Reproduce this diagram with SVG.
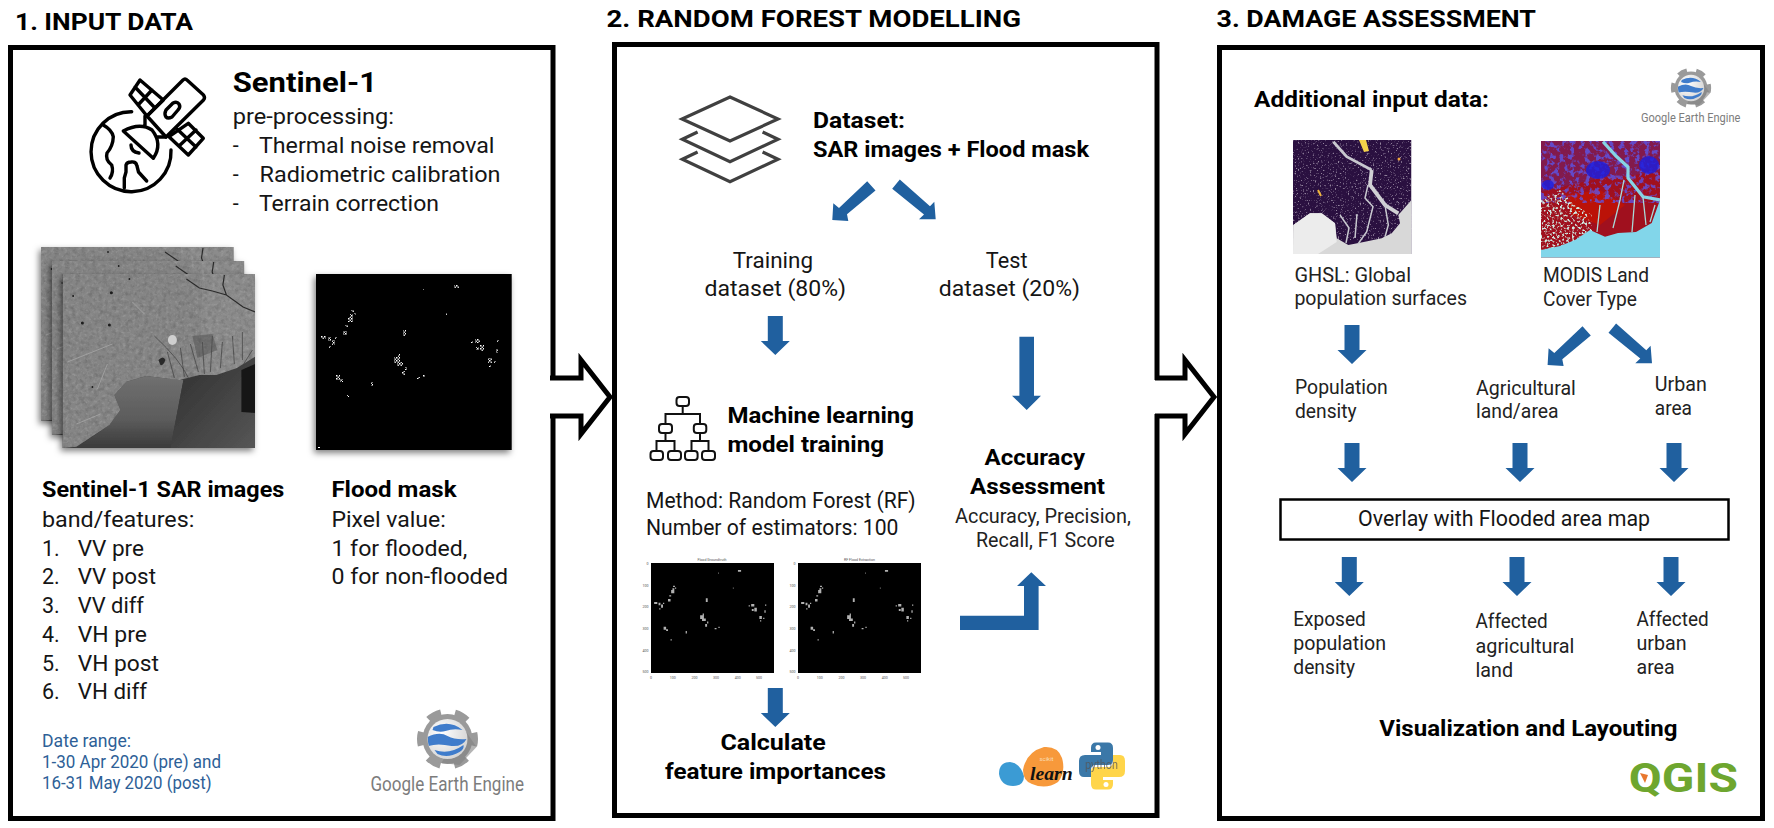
<svg xmlns="http://www.w3.org/2000/svg" width="1774" height="828" viewBox="0 0 1774 828">
<style>
text{font-family:Roboto,"Liberation Sans",sans-serif;fill:#111}
.h{font-size:24px;font-weight:700;fill:#000}
.t{font-size:28px;font-weight:700;fill:#000}
.b{font-size:22px;font-weight:700;fill:#000}
.r{font-size:21.5px;fill:#151515}
.s{font-size:19.5px;fill:#222}
.d{font-size:17.5px;fill:#2e5f97}
.g{fill:#7c7c7c;font-size:20px}
.tk{font-size:3.6px;fill:#555}
.frame{fill:#fff;stroke:#000;stroke-width:5}
.arr{fill:#20609f}
.line{fill:none;stroke:#000;stroke-width:3.4;stroke-linejoin:round;stroke-linecap:round}
.lay{fill:none;stroke:#404040;stroke-width:3.2}
.big{fill:none;stroke:#000;stroke-width:5;stroke-miterlimit:10}
</style>
<defs>
<filter id="sh" x="-10%" y="-10%" width="120%" height="120%"><feDropShadow dx="-2" dy="3" stdDeviation="3" flood-color="#000" flood-opacity=".5"/></filter>
<filter id="noise" x="0" y="0" width="100%" height="100%"><feTurbulence type="fractalNoise" baseFrequency=".22" numOctaves="4" seed="4"/><feColorMatrix values="0 0 0 0 0  0 0 0 0 0  0 0 0 0 0  1.500 0 0 0 -.65"/></filter>
<filter id="noiseL" x="0" y="0" width="100%" height="100%"><feTurbulence type="fractalNoise" baseFrequency=".3" numOctaves="3" seed="11"/><feColorMatrix values="0 0 0 0 1  0 0 0 0 1  0 0 0 0 1  1.500 0 0 0 -.7"/></filter>
<filter id="speck" x="0" y="0" width="100%" height="100%"><feTurbulence type="fractalNoise" baseFrequency=".6" numOctaves="2" seed="9"/><feColorMatrix values="0 0 0 0 .85  0 0 0 0 .8  0 0 0 0 .85  5 0 0 0 -2.950"/></filter>
<filter id="bluen" x="0" y="0" width="100%" height="100%"><feTurbulence type="fractalNoise" baseFrequency=".2" numOctaves="3" seed="3"/><feColorMatrix values="0 0 0 0 .1  0 0 0 0 .1  0 0 0 0 .9  6 0 0 0 -2.950"/></filter>
<filter id="mint" x="0" y="0" width="100%" height="100%"><feTurbulence type="fractalNoise" baseFrequency=".4" numOctaves="2" seed="6"/><feColorMatrix values="0 0 0 0 .62  0 0 0 0 .82  0 0 0 0 .76  5 0 0 0 -2.500"/></filter>
<pattern id="grain" width="3" height="3" patternUnits="userSpaceOnUse"><rect width="1.500" height="1.500" fill="#fff"/><rect x="1.500" y="1.500" width="1.500" height="1.500" fill="#ccc"/></pattern>
<polygon id="dn" class="arr" points="-7.5,0 7.5,0 7.5,25 14.5,25 0,39 -14.5,25 -7.5,25"/>
<polygon id="dl" class="arr" points="867.200,181.200 875.500,190.500 847,214.300 848.300,221 832.300,220 833.300,203.300 839,208"/>
<polygon id="dr" class="arr" points="899.800,179.500 892.200,188.800 924,214.500 919,219.300 935.700,219.300 934.300,201.700 930,206.200"/>
<clipPath id="c1"><rect x="0" y="0" width="192.600" height="174"/></clipPath>
<clipPath id="cland"><path d="M0 0H192.600V82.700L174 94.300L154 101L137 101L117 106L100.700 104L84 102L64 107.700L52 121L58 136L47 151L14 172.700L0 174Z"/></clipPath>
<linearGradient id="sea1" x1="0" y1="0" x2="0" y2="1"><stop offset="0" stop-color="#707070"/><stop offset=".6" stop-color="#5c5c5c"/><stop offset="1" stop-color="#3a3a3a"/></linearGradient>
<linearGradient id="sea2" x1="0" y1="0" x2="1" y2="1"><stop offset="0" stop-color="#2e2e2e"/><stop offset="1" stop-color="#565656"/></linearGradient>
<g id="sar" clip-path="url(#c1)">
<rect width="192.600" height="174" fill="#3c3c3c"/>
<path d="M52 121L64 107.700L84 102L100.700 104L121 106L108 174H14L47 151L58 136Z" fill="url(#sea1)"/>
<path d="M121 106L137 101L154 101L174 94.300L192.600 82.700V174H108Z" fill="url(#sea2)"/>
<path d="M179 96L192.600 90V139L179 138Z" fill="#181818"/>
<g clip-path="url(#cland)">
<rect width="192.600" height="174" fill="#858585"/>
<rect width="192.600" height="174" filter="url(#noise)" opacity=".22"/>
<rect width="192.600" height="174" filter="url(#noiseL)" opacity=".22"/>
<path d="M140 0L137 100H192.600V0Z" fill="#fff" opacity=".05"/>
<path d="M70 28L82 40M5 88L50 70M35 115L45 90M14 150L38 140" fill="none" stroke="#a0a0a0" stroke-width="1"/>
<path d="M92 62Q118 86 126 104M118 74L122 103M128 70L136 98M140 68L142 100M150 62L148 98M160 68L158 94M170 62L172 90M180 58L180 86M105 78L112 104M190 76L180 92" fill="none" stroke="#3f3f3f" stroke-width=".7"/>
<path d="M130 62L150 60L155 76L135 84Z" fill="#4a4a4a" opacity=".45"/>
<ellipse cx="110" cy="66" rx="4.500" ry="5" fill="#cfcfcf"/>
<path d="M96 86Q101 81 103 86Q101 92 98 91Z" fill="#2a2a2a"/>
</g>
<path d="M124 5L137 14L150 17L164 21L180.700 33L192.600 38M162 1L160.500 11L164 21" fill="none" stroke="#2c2c2c" stroke-width="1.200"/>
<g fill="#1c1c1c"><circle cx="49" cy="18.700" r="1.500"/><circle cx="20" cy="49" r="1.500"/><circle cx="47" cy="51" r="1.500"/><circle cx="10.700" cy="22" r="1"/><circle cx="67" cy="5" r=".9"/><circle cx="30" cy="113" r=".9"/></g>
</g>
<path id="dotshape" d="M348 322h5v-8h-3v3h-2zM351 310h3v2h-3zM354 313h2v2h-2zM345 325h3v2h-3zM321 336h5v3h-5zM328 337h3v4h-3zM332 340h3v5h-3zM335 337h2v2h-2zM343 331h4v4h-4zM329 346h2v2h-2zM403 330h3v6h-3zM394 357h6v6h-6zM397 362h6v4h-6zM398 354h2v4h-2zM402 371h3v4h-3zM405 367h2v3h-2zM417 377h3v2h-3zM423 375h2v2h-2zM336 375h4v5h-4zM340 379h3v3h-3zM371 382h2v4h-2zM347 395h2v2h-2zM475 339h5v4h-5zM480 345h4v6h-4zM476 347h3v3h-3zM471 341h2v2h-2zM488 358h4v5h-4zM489 365h2v2h-2zM496 349h2v4h-2zM494 361h2v2h-2zM497 340h2v2h-2zM454 285h5v3h-5zM423 289h1v2h-1zM446 313h1v2h-1z"/>
<g id="dots"><use href="#dotshape" fill="url(#grain)"/><path d="M318 447h2v1h-2z" fill="#fff"/></g>
<clipPath id="gb"><circle r="20"/></clipPath>
<radialGradient id="glb" cx=".35" cy=".35" r=".8"><stop offset="0" stop-color="#fff"/><stop offset="1" stop-color="#cfcfcf"/></radialGradient>
<g id="gear">
<circle r="27" fill="none" stroke="#9a9a9a" stroke-width="7" stroke-dasharray="14 14.270" stroke-dashoffset="7"/>
<circle r="25" fill="#9a9a9a"/>
<path d="M14-14L29 8L12 26L-6 24Z" fill="#828282" opacity=".6"/>
<circle r="20" fill="url(#glb)"/>
<g clip-path="url(#gb)" fill="#3f7ccb">
<path d="M-14-12Q2-20 15-9Q6-11-2-8Q-8-6-15-9Z"/>
<path d="M-20-2Q-8-8 0-3Q8 1 19 0Q15 8 4 7Q-10 4-19 7Z"/>
<path d="M-13 11Q2 16 16 6Q17 10 12 13Q0 20-10 15Z"/>
</g>
</g>
<g id="snake"><path d="M-6-23.500H6Q11-23.500 11-18V-6Q11-1 6-1H-6Q-11-1-11 4V11H-18Q-23 11-23 5V-5Q-23-11-17-11H-1V-14H-11V-18Q-11-23.500-6-23.500Z"/><circle cx="-4" cy="-18.500" r="2.500" fill="#fff"/></g>
<g id="plot">
<rect x="651" y="563" width="123" height="110" fill="#000"/>
<text class="tk" x="648.500" y="564.500" text-anchor="end">0</text><text class="tk" x="648.500" y="586.500" text-anchor="end">100</text><text class="tk" x="648.500" y="608" text-anchor="end">200</text><text class="tk" x="648.500" y="629.500" text-anchor="end">300</text><text class="tk" x="648.500" y="651.500" text-anchor="end">400</text><text class="tk" x="648.500" y="673" text-anchor="end">500</text>
<text class="tk" x="651" y="678.500" text-anchor="middle">0</text><text class="tk" x="672.700" y="678.500" text-anchor="middle">100</text><text class="tk" x="694.500" y="678.500" text-anchor="middle">200</text><text class="tk" x="716" y="678.500" text-anchor="middle">300</text><text class="tk" x="737.800" y="678.500" text-anchor="middle">400</text><text class="tk" x="759" y="678.500" text-anchor="middle">500</text>
<use href="#dotshape" fill="#ddd" opacity=".8" transform="translate(651 563) scale(.63) translate(-316 -274)"/>
</g>
<clipPath id="cghsl"><rect x="1293" y="140" width="118.500" height="114"/></clipPath>
<clipPath id="cmod"><rect x="1541" y="141" width="119" height="116.700"/></clipPath>
<clipPath id="cmint"><path d="M1541 200L1560 190L1575 205L1592 215L1592 235L1560 250H1541Z"/></clipPath>
</defs>

<g id="titles">
<text class="h" x="15" y="29.500" textLength="178" lengthAdjust="spacingAndGlyphs">1. INPUT DATA</text>
<text class="h" x="606.500" y="27" textLength="414.500" lengthAdjust="spacingAndGlyphs">2. RANDOM FOREST MODELLING</text>
<text class="h" x="1216.500" y="27" textLength="319.500" lengthAdjust="spacingAndGlyphs">3. DAMAGE ASSESSMENT</text>
</g>

<g id="panel-input">
<rect class="frame" x="10.500" y="47.500" width="542.500" height="771"/>
<g id="satellite-icon">
<path class="line" d="M131.700 111.700A40 40 0 1 0 171 150"/>
<path class="line" d="M103.300 125Q112 130 113.300 136.700Q113 146 107 153Q105 160 111.700 165Q114 172 110 178M124.300 188V178L126 172V165Q127 162 131 162Q136 161 137 166L138.500 172L146.700 181"/>
<path class="line" d="M183 80Q185 78 187 80L203.500 95Q205.500 98 203.500 100L166 137L147 116Z"/>
<path class="line" d="M140 80L163.300 100L147 116L130 95ZM135 87L155 108M152 90L138 105"/>
<path class="line" d="M188.300 123.300L203.300 138.300L188.300 155L169 136.700ZM177 129L196 147M196 130L179 146"/>
<path class="line" d="M166 110L173 103Q177 101 179 104Q181 107 178 110L172 117Q168 119 166 117Q164 114 166 110Z"/>
<path class="line" d="M123.300 131Q140 122 152 130Q163 144 153.300 158.300ZM131 145Q131 152 139 153M145 116V125M156 137L166 137"/>
</g>
<text class="t" x="232.700" y="91.700" textLength="144.300" lengthAdjust="spacingAndGlyphs">Sentinel-1</text>
<text class="r" x="232.700" y="123.500" textLength="161.300" lengthAdjust="spacingAndGlyphs">pre-processing:</text>
<text class="r" x="232.700" y="152.700">-</text><text class="r" x="259" y="152.700" textLength="235.500" lengthAdjust="spacingAndGlyphs">Thermal noise removal</text>
<text class="r" x="232.700" y="181.700">-</text><text class="r" x="259.500" y="181.700" textLength="241" lengthAdjust="spacingAndGlyphs">Radiometric calibration</text>
<text class="r" x="232.700" y="210.700">-</text><text class="r" x="259" y="210.700" textLength="180" lengthAdjust="spacingAndGlyphs">Terrain correction</text>
<g id="sar-stack">
<use href="#sar" transform="translate(41 247)" filter="url(#sh)"/>
<use href="#sar" transform="translate(51.700 261)" filter="url(#sh)"/>
<use href="#sar" transform="translate(62.400 274)" filter="url(#sh)"/>
</g>
<g id="flood-mask-image">
<rect x="316" y="274" width="195.700" height="176" fill="#000" filter="url(#sh)"/>
<use href="#dots"/>
</g>
<text class="b" x="42" y="497.300" textLength="242.300" lengthAdjust="spacingAndGlyphs">Sentinel-1 SAR images</text>
<text class="r" x="42" y="526.700" textLength="152.400" lengthAdjust="spacingAndGlyphs">band/features:</text>
<text class="r" x="42" y="555.700">1.</text><text class="r" x="77.700" y="555.700" textLength="66.300" lengthAdjust="spacingAndGlyphs">VV pre</text>
<text class="r" x="42" y="584.300">2.</text><text class="r" x="77.700" y="584.300" textLength="78.300" lengthAdjust="spacingAndGlyphs">VV post</text>
<text class="r" x="42" y="612.700">3.</text><text class="r" x="77.700" y="612.700" textLength="66.300" lengthAdjust="spacingAndGlyphs">VV diff</text>
<text class="r" x="42" y="641.700">4.</text><text class="r" x="77.700" y="641.700" textLength="69.300" lengthAdjust="spacingAndGlyphs">VH pre</text>
<text class="r" x="42" y="670.700">5.</text><text class="r" x="77.700" y="670.700" textLength="81.300" lengthAdjust="spacingAndGlyphs">VH post</text>
<text class="r" x="42" y="699.300">6.</text><text class="r" x="77.700" y="699.300" textLength="69.300" lengthAdjust="spacingAndGlyphs">VH diff</text>
<text class="b" x="331.400" y="497.300" textLength="125.100" lengthAdjust="spacingAndGlyphs">Flood mask</text>
<text class="r" x="331.400" y="526.700" textLength="114.400" lengthAdjust="spacingAndGlyphs">Pixel value:</text>
<text class="r" x="331.400" y="555.700" textLength="135.900" lengthAdjust="spacingAndGlyphs">1 for flooded,</text>
<text class="r" x="331.400" y="584.300" textLength="176.600" lengthAdjust="spacingAndGlyphs">0 for non-flooded</text>
<text class="d" x="42" y="746.700" textLength="89" lengthAdjust="spacingAndGlyphs">Date range:</text>
<text class="d" x="42" y="767.700" textLength="179" lengthAdjust="spacingAndGlyphs">1-30 Apr 2020 (pre) and</text>
<text class="d" x="42" y="789.300" textLength="169.600" lengthAdjust="spacingAndGlyphs">16-31 May 2020 (post)</text>
<g id="gee-logo-1"><use href="#gear" transform="translate(447.500 739)"/>
<text class="g" x="370.500" y="790.700" textLength="153.500" lengthAdjust="spacingAndGlyphs">Google Earth Engine</text></g>
</g>

<g id="panel-model">
<rect class="frame" x="614.500" y="44.500" width="542.500" height="771"/>
<g id="layers-icon">
<path class="lay" d="M730 97L778 119L730 141L682 119Z"/>
<path class="lay" d="M762.600 132L778 139.300L730 161.700L682.300 139.300L697.600 132"/>
<path class="lay" d="M762.600 152L778 159.300L730 181.700L682.300 159.300L697.600 152"/>
</g>
<text class="b" x="813" y="128.300" textLength="92" lengthAdjust="spacingAndGlyphs">Dataset:</text>
<text class="b" x="813" y="156.700" textLength="276" lengthAdjust="spacingAndGlyphs">SAR images + Flood mask</text>
<text class="r" x="732.800" y="267.700" textLength="80.200" lengthAdjust="spacingAndGlyphs">Training</text>
<text class="r" x="704.500" y="296" textLength="141.500" lengthAdjust="spacingAndGlyphs">dataset (80%)</text>
<text class="r" x="985.800" y="267.700" textLength="41.700" lengthAdjust="spacingAndGlyphs">Test</text>
<text class="r" x="938.700" y="296" textLength="141.300" lengthAdjust="spacingAndGlyphs">dataset (20%)</text>
<g id="tree-icon"><path fill="none" stroke="#111" stroke-width="2" d="M682.700 406V414H665.500V424M682.700 414H700V424M665.500 433V441H656.500V451M665.500 441H674.500V451M700 433V441H691.500V451M700 441H708.500V451"/>
<g fill="#fff" stroke="#111" stroke-width="2"><rect x="676.500" y="397" width="12.500" height="9" rx="3"/><rect x="659" y="424" width="13" height="9" rx="3"/><rect x="693.800" y="424" width="12.500" height="9" rx="3"/><rect x="650.500" y="451" width="12.500" height="9" rx="3"/><rect x="668" y="451" width="13" height="9" rx="3"/><rect x="685" y="451" width="12.600" height="9" rx="3"/><rect x="702" y="451" width="13" height="9" rx="3"/></g></g>
<text class="b" x="727.400" y="422.700" textLength="186.600" lengthAdjust="spacingAndGlyphs">Machine learning</text>
<text class="b" x="727.400" y="451.700" textLength="156.600" lengthAdjust="spacingAndGlyphs">model training</text>
<text class="b" x="984.600" y="465" textLength="100.400" lengthAdjust="spacingAndGlyphs">Accuracy</text>
<text class="b" x="970" y="494" textLength="135" lengthAdjust="spacingAndGlyphs">Assessment</text>
<text class="s" x="955" y="522.700" textLength="175.800" lengthAdjust="spacingAndGlyphs">Accuracy, Precision,</text>
<text class="s" x="976" y="546.700" textLength="138.700" lengthAdjust="spacingAndGlyphs">Recall, F1 Score</text>
<text class="r" x="646" y="508.300" textLength="269.700" lengthAdjust="spacingAndGlyphs">Method: Random Forest (RF)</text>
<text class="r" x="646" y="535" textLength="252.500" lengthAdjust="spacingAndGlyphs">Number of estimators: 100</text>
<g id="plots">
<use href="#plot"/><use href="#plot" transform="translate(147 0)"/>
<text class="tk" x="712" y="561" text-anchor="middle">Flood Groundtruth</text>
<text class="tk" x="859.500" y="561" text-anchor="middle">RF Flood Extraction</text>
</g>
<text class="b" x="720.500" y="750" textLength="105.300" lengthAdjust="spacingAndGlyphs">Calculate</text>
<text class="b" x="665" y="779.300" textLength="220.900" lengthAdjust="spacingAndGlyphs">feature importances</text>
<g id="sklearn-logo">
<path d="M999 774Q999 762 1010 762Q1020 763 1024 776Q1024 786 1013 786Q1001 786 999 774Z" fill="#3b9bd4"/>
<path d="M1023 770Q1026 752 1044 747Q1058 746 1062 758Q1066 772 1058 782Q1046 790 1032 784Q1023 781 1023 770Z" fill="#f7993b"/>
<text x="1046.500" y="761" text-anchor="middle" style="font-size:6px;fill:#f9dcb5">scikit</text>
<text x="1030" y="780" textLength="42.700" lengthAdjust="spacingAndGlyphs" style="font-family:'Liberation Serif',serif;font-style:italic;font-weight:700;font-size:19px;fill:#111">learn</text>
</g>
<g id="python-logo">
<use href="#snake" fill="#3b78a8" transform="translate(1102 766)"/>
<use href="#snake" fill="#ffd54a" transform="translate(1102 766) rotate(180)"/>
<text x="1085" y="769" textLength="33" lengthAdjust="spacingAndGlyphs" style="font-size:13px;fill:#555;opacity:.75">python</text>
</g>
</g>

<g id="panel-damage">
<rect class="frame" x="1219.500" y="47.500" width="543" height="771"/>
<text class="b" x="1254" y="107.300" textLength="235" lengthAdjust="spacingAndGlyphs">Additional input data:</text>
<g id="gee-logo-2"><use href="#gear" transform="translate(1691 88) scale(.66)"/>
<text class="g" style="font-size:13px" x="1641" y="121.700" textLength="99.400" lengthAdjust="spacingAndGlyphs">Google Earth Engine</text></g>
<g id="ghsl-image" clip-path="url(#cghsl)">
<rect x="1293" y="140" width="118.500" height="114" fill="#2a1040"/>
<rect x="1293" y="140" width="118.500" height="100" filter="url(#speck)" opacity=".55"/>
<path d="M1293.300 225L1310 213.300L1321.700 213.300L1335 223.300L1336.700 238.300L1348.300 245L1365 241.700L1381.700 238.300L1391.700 233.300L1400 223.300L1398.300 215L1411.500 200V254H1293Z" fill="#d8d8d8"/>
<path d="M1293.300 225L1310 213.300L1321.700 213.300L1335 223.300L1336.700 242L1318 254H1293Z" fill="#ececec"/>
<path d="M1333.300 141.700L1346.700 156.700L1371.700 170" fill="none" stroke="#c8c8cf" stroke-width="2.800"/>
<path d="M1371.700 170L1370 185L1385 205L1398.300 213.300" fill="none" stroke="#d0d0d4" stroke-width="3.800"/>
<path d="M1368 185L1365 198L1373 206.700L1366.700 231.700L1358 244M1385 205L1388.300 225L1385 237M1340 215L1349 228L1346 243M1357 214L1355 238" fill="none" stroke="#c8c8cf" stroke-width="1.500"/>
<path d="M1359 140L1366 140L1369 151L1364 152Z" fill="#f4d24a"/>
<path d="M1318 190l3 6" stroke="#f2b63c" stroke-width="2"/><circle cx="1399" cy="159" r="1.500" fill="#f2a63c"/>
</g>
<g id="modis-image" clip-path="url(#cmod)">
<rect x="1541" y="141" width="119" height="116.700" fill="#a0101e"/>
<path d="M1541 141H1660V172L1625 176L1600 178L1570 185L1541 192Z" fill="#821a4c"/>
<path d="M1565 195L1600 190L1625 205L1600 225L1572 215Z" fill="#bb1208"/>
<rect x="1541" y="141" width="119" height="62" filter="url(#bluen)" opacity=".75"/>
<ellipse cx="1598" cy="170" rx="12" ry="9" fill="#1a1de0" opacity=".8"/><ellipse cx="1649" cy="165" rx="10" ry="9" fill="#1a1de0" opacity=".8"/><ellipse cx="1548" cy="185" rx="6" ry="5" fill="#1a1de0" opacity=".8"/>
<g clip-path="url(#cmint)"><rect x="1541" y="185" width="52" height="66" filter="url(#mint)"/></g>
<path d="M1541 250L1560 246L1575 240L1590 230L1605 236.700L1618 233L1636 232L1651.700 223L1660 200V257.700H1541Z" fill="#82d6ea"/>
<path d="M1603 141.700L1616 156L1628 167L1628 178L1643 196.700L1660 200" fill="none" stroke="#86d4e4" stroke-width="3.200"/>
<path d="M1624 180L1620 200L1613 228M1643 197L1646 225M1600 205L1597 232M1635 195L1632 232M1655 205L1650 222" fill="none" stroke="#a8d8d8" stroke-width="1.300"/>
</g>
<text class="s" x="1294.400" y="281.700" textLength="116.600" lengthAdjust="spacingAndGlyphs">GHSL: Global</text>
<text class="s" x="1294.400" y="305" textLength="172.600" lengthAdjust="spacingAndGlyphs">population surfaces</text>
<text class="s" x="1543" y="282.300" textLength="106" lengthAdjust="spacingAndGlyphs">MODIS Land</text>
<text class="s" x="1543" y="306" textLength="94" lengthAdjust="spacingAndGlyphs">Cover Type</text>
<text class="s" x="1295" y="394.300" textLength="92.700" lengthAdjust="spacingAndGlyphs">Population</text>
<text class="s" x="1295" y="417.700" textLength="61.600" lengthAdjust="spacingAndGlyphs">density</text>
<text class="s" x="1476" y="395.300" textLength="99.800" lengthAdjust="spacingAndGlyphs">Agricultural</text>
<text class="s" x="1476" y="418" textLength="82.600" lengthAdjust="spacingAndGlyphs">land/area</text>
<text class="s" x="1654.800" y="391" textLength="52" lengthAdjust="spacingAndGlyphs">Urban</text>
<text class="s" x="1654.800" y="415" textLength="37.200" lengthAdjust="spacingAndGlyphs">area</text>
<g id="overlay"><rect x="1280.500" y="499.500" width="448" height="40" fill="#fff" stroke="#000" stroke-width="2.500"/>
<text class="r" x="1358" y="525.700" textLength="292" lengthAdjust="spacingAndGlyphs">Overlay with Flooded area map</text></g>
<text class="s" x="1293.300" y="625.700" textLength="72.500" lengthAdjust="spacingAndGlyphs">Exposed</text>
<text class="s" x="1293.300" y="650" textLength="92.700" lengthAdjust="spacingAndGlyphs">population</text>
<text class="s" x="1293.300" y="674.300" textLength="61.700" lengthAdjust="spacingAndGlyphs">density</text>
<text class="s" x="1475.500" y="628.300" textLength="72.100" lengthAdjust="spacingAndGlyphs">Affected</text>
<text class="s" x="1475.500" y="652.700" textLength="98.800" lengthAdjust="spacingAndGlyphs">agricultural</text>
<text class="s" x="1475.500" y="676.700" textLength="37.500" lengthAdjust="spacingAndGlyphs">land</text>
<text class="s" x="1636.500" y="625.700" textLength="72.100" lengthAdjust="spacingAndGlyphs">Affected</text>
<text class="s" x="1636.500" y="650" textLength="50.100" lengthAdjust="spacingAndGlyphs">urban</text>
<text class="s" x="1636.500" y="674.300" textLength="38.100" lengthAdjust="spacingAndGlyphs">area</text>
<text class="b" x="1379.300" y="736" textLength="298.200" lengthAdjust="spacingAndGlyphs">Visualization and Layouting</text>
<g id="qgis-logo"><text x="1628.800" y="791.700" textLength="109.100" lengthAdjust="spacingAndGlyphs" style="font-size:41px;font-weight:700;fill:#6ea62f">QGIS</text>
<path d="M1640 773l8 2l-3 8z" fill="#e8772e"/></g>
</g>

<g id="connectors">
<polygon fill="#fff" points="549,380 581,380 581,360 610,397 581,434 581,414 549,414"/>
<polyline class="big" points="550,378 581,378 581,360 610,397 581,434 581,416 550,416"/>
<polygon fill="#fff" points="1154,380 1185,380 1185,360 1214,397 1185,434 1185,414 1154,414"/>
<polyline class="big" points="1155,378 1185,378 1185,360 1214,397 1185,434 1185,416 1155,416"/>
<use href="#dl"/><use href="#dr"/>
<use href="#dn" x="775.300" y="316"/>
<polygon class="arr" points="1019.400,336.700 1034,336.700 1034,395.700 1041,395.700 1026.700,410 1012,395.700 1019.400,395.700"/>
<use href="#dn" x="775.300" y="688"/>
<polygon class="arr" points="960,615.700 1024,615.700 1024,586 1017,586 1031.300,572.300 1046,586 1038.600,586 1038.600,630 960,630"/>
<use href="#dn" x="1352" y="325"/>
<use href="#dl" transform="translate(715.300 145)"/>
<use href="#dr" transform="translate(716.300 144)"/>
<use href="#dn" x="1352" y="443"/><use href="#dn" x="1520" y="443"/><use href="#dn" x="1674" y="443"/>
<use href="#dn" x="1349.300" y="557"/><use href="#dn" x="1517" y="557"/><use href="#dn" x="1671" y="557"/>
</g>
</svg>
